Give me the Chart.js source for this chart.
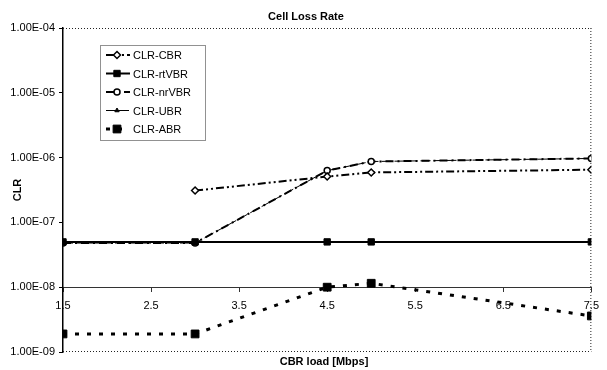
<!DOCTYPE html>
<html><head><meta charset="utf-8">
<script src="https://cdn.jsdelivr.net/npm/chart.js@4/dist/chart.umd.min.js"></script>
<style>html,body{margin:0;padding:0;background:#fff}#wrap{width:607px;height:370px}</style>
</head><body><div id="wrap"><canvas id="c" width="607" height="370"></canvas></div>
<script>
// CBR load (Mbps) at which each measurement was taken
const loads = [1.5, 3, 4.5, 5, 7.5];
// cell loss rate per service category
const clrCBR   = [null, 3.1e-7, 5.1e-7, 5.9e-7, 6.5e-7];
const clrRtVBR = [5.0e-8, 5.0e-8, 5.0e-8, 5.0e-8, 5.0e-8];
const clrNrVBR = [4.8e-8, 4.8e-8, 6.3e-7, 8.7e-7, 9.7e-7];
const clrUBR   = [4.8e-8, 4.8e-8, 6.3e-7, 8.7e-7, 9.7e-7];
const clrABR   = [1.9e-9, 1.9e-9, 1.0e-8, 1.15e-8, 3.6e-9];
const seriesNames = ['CLR-CBR', 'CLR-rtVBR', 'CLR-nrVBR', 'CLR-UBR', 'CLR-ABR'];
const xTicks = [1.5, 2.5, 3.5, 4.5, 5.5, 6.5, 7.5];
const yTicks = [1e-9, 1e-8, 1e-7, 1e-6, 1e-5, 1e-4];
const chartTitle = 'Cell Loss Rate';
const xTitle = 'CBR load [Mbps]';

const FONT = "'Liberation Sans', Arial, sans-serif";
const pts = vals => loads.map((x, i) => ({x: x, y: vals[i]}));

function sci(v) {
  const e = Math.round(Math.log10(v));
  const m = v / Math.pow(10, e);
  const s = e < 0 ? '-' : '+';
  return m.toFixed(2) + 'E' + s + String(Math.abs(e)).padStart(2, '0');
}

// dotted frame along the top, right and bottom of the plot
const frame = {
  id: 'frame',
  beforeDatasetsDraw(chart) {
    const {ctx, chartArea: a} = chart;
    ctx.save();
    ctx.strokeStyle = '#222';
    ctx.lineWidth = 1;
    ctx.setLineDash([1, 2]);
    ctx.beginPath();
    ctx.moveTo(a.left, a.top + 0.5); ctx.lineTo(a.right, a.top + 0.5);
    ctx.moveTo(a.right - 0.5, a.top); ctx.lineTo(a.right - 0.5, a.bottom);
    ctx.moveTo(a.left, a.bottom - 0.5); ctx.lineTo(a.right, a.bottom - 0.5);
    ctx.stroke();
    ctx.restore();
  }
};

// chart title above the plot and the load caption under it
const captions = {
  id: 'captions',
  afterDraw(chart) {
    const {ctx, chartArea: a} = chart;
    ctx.save();
    ctx.fillStyle = '#000';
    ctx.font = 'bold 11px ' + FONT;
    ctx.textAlign = 'center';
    ctx.textBaseline = 'middle';
    ctx.fillText(chartTitle, 306, a.top - 11);
    ctx.fillText(xTitle, 324, a.bottom + 10);
    ctx.restore();
  }
};

// boxed legend inside the plot, upper left
const boxLegend = {
  id: 'boxLegend',
  afterDraw(chart) {
    const ctx = chart.ctx;
    const bx = 100, by = 45, bw = 105, bh = 95;
    ctx.save();
    ctx.fillStyle = '#fff';
    ctx.fillRect(bx, by, bw, bh);
    ctx.strokeStyle = '#222';
    ctx.lineWidth = 1;
    ctx.setLineDash([1, 1]);
    ctx.strokeRect(bx + 0.5, by + 0.5, bw, bh);
    ctx.font = '11px ' + FONT;
    ctx.textBaseline = 'middle';
    chart.data.datasets.forEach((ds, i) => {
      const y = 55 + i * 18.5;
      ctx.setLineDash(ds.borderDash || []);
      ctx.strokeStyle = '#000';
      ctx.lineWidth = ds.borderWidth;
      ctx.beginPath();
      ctx.moveTo(106, y); ctx.lineTo(130, y);
      ctx.stroke();
      ctx.setLineDash([]);
      ctx.fillStyle = ds.pointBackgroundColor;
      ctx.strokeStyle = '#000';
      ctx.lineWidth = ds.pointBorderWidth;
      Chart.helpers.drawPoint(ctx, {pointStyle: ds.pointStyle, radius: ds.pointRadius, rotation: 0, borderWidth: ds.pointBorderWidth}, 117, y);
      ctx.fillStyle = '#000';
      ctx.fillText(ds.label, 133, y + 1);
    });
    ctx.restore();
  }
};

new Chart(document.getElementById('c'), {
  type: 'line',
  data: {
    datasets: [
      {label: seriesNames[0], data: pts(clrCBR), borderColor: '#000', borderWidth: 2, borderDash: [8, 3, 2, 3, 2, 3],
       pointStyle: 'rectRot', pointRadius: 3.5, pointBackgroundColor: '#fff', pointBorderColor: '#000', pointBorderWidth: 1.5},
      {label: seriesNames[1], data: pts(clrRtVBR), borderColor: '#000', borderWidth: 2, borderDash: [],
       pointStyle: 'rect', pointRadius: 4.5, pointBackgroundColor: '#000', pointBorderColor: '#000', pointBorderWidth: 1},
      {label: seriesNames[2], data: pts(clrNrVBR), borderColor: '#000', borderWidth: 2, borderDash: [8, 4, 2, 4],
       pointStyle: 'circle', pointRadius: 3, pointBackgroundColor: '#fff', pointBorderColor: '#000', pointBorderWidth: 1.5},
      {label: seriesNames[3], data: pts(clrUBR), borderColor: '#000', borderWidth: 1, borderDash: [10, 3],
       pointStyle: 'triangle', pointRadius: 2.5, pointBackgroundColor: '#000', pointBorderColor: '#000', pointBorderWidth: 1},
      {label: seriesNames[4], data: pts(clrABR), borderColor: '#000', borderWidth: 3, borderDash: [4, 8],
       pointStyle: 'rect', pointRadius: 5.5, pointBackgroundColor: '#000', pointBorderColor: '#000', pointBorderWidth: 1}
    ]
  },
  options: {
    responsive: false,
    animation: false,
    devicePixelRatio: 1,
    spanGaps: false,
    layout: {padding: {left: 0, right: 13, top: 28, bottom: 18}},
    plugins: {
      legend: {display: false},
      tooltip: {enabled: false},
      title: {display: false},
      subtitle: {display: false}
    },
    scales: {
      x: {
        type: 'linear', min: 1.5, max: 7.5,
        position: {y: 1e-8},
        afterBuildTicks: s => { s.ticks = xTicks.map(v => ({value: v})); },
        ticks: {color: '#000', font: {family: FONT, size: 11}, padding: 8, maxRotation: 0,
                callback: v => String(v)},
        grid: {drawOnChartArea: false, drawTicks: true, tickLength: 4, color: '#333'},
        border: {display: true, color: '#333', width: 1}
      },
      y: {
        type: 'logarithmic', min: 1e-9, max: 1e-4,
        afterBuildTicks: s => { s.ticks = yTicks.map(v => ({value: v})); },
        afterFit: s => { s.width = 63; },
        ticks: {color: '#000', font: {family: FONT, size: 11}, padding: 4, callback: v => sci(v)},
        grid: {drawOnChartArea: false, drawTicks: true, tickLength: 4, color: '#000'},
        border: {display: true, color: '#000', width: 1.5},
        title: {display: true, text: 'CLR', color: '#000', font: {family: FONT, size: 11, weight: 'bold'},
                padding: {top: 11, bottom: 0}}
      }
    }
  },
  plugins: [frame, captions, boxLegend]
});
</script>
</body></html>
